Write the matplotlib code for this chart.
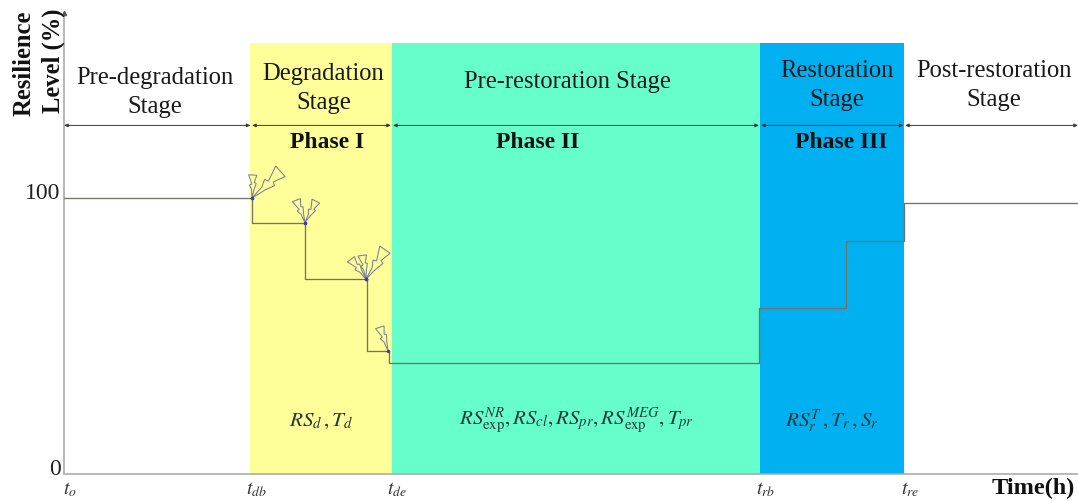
import matplotlib
matplotlib.use("Agg")
import matplotlib.pyplot as plt
from matplotlib.patches import Polygon
from matplotlib.transforms import Affine2D, ScaledTranslation
import numpy as np

plt.rcParams['font.family'] = ['Liberation Serif', 'DejaVu Serif']
plt.rcParams['mathtext.fontset'] = 'stix'

# Data
step_times = [0, 188, 240.5, 302.5, 324.5, 695, 782, 840, 1014]
step_levels = [100, 91.1, 70.6, 44.4, 40.2, 60, 84.4, 98.2, 98.2]
boundaries = [186, 328, 696, 840]
band_colors = ['#FFFF99', '#66FFCC', '#00B0F0']
stage_labels = ['Pre-degradation\nStage', 'Degradation\nStage', 'Pre-restoration Stage',
                'Restoration\nStage', 'Post-restoration\nStage']
stage_x = [91, 259.5, 503, 773, 930]
stage_y = [138.3, 139.7, 142, 140.7, 140.7]
phase_labels = ['Phase I', 'Phase II', 'Phase III']
phase_x = [263, 473.5, 777]
param_labels = [r'$RS_d\,,T_d$',
                r'$RS_{\mathrm{exp}}^{NR},RS_{cl},RS_{pr},RS_{\mathrm{exp}}^{MEG},T_{pr}$',
                r'$RS_r^{T}\,,T_r\,,S_r$']
param_x = [257.5, 513, 768]
time_ticks = [0, 186, 327, 696, 840]
time_labels = [r'$t_o$', r'$t_{db}$', r'$t_{de}$', r'$t_{rb}$', r'$t_{re}$']
span_edges = [(0, 186.5), (188, 327), (329, 695), (697, 839.5), (841, 1014)]
# bolt anchors: (time, level, angle from vertical deg, length px)
bolts = [(188, 100, -3, 23), (188, 100, -48, 39),
         (241, 91.1, 20, 24), (241, 91.1, -28, 24),
         (302, 70.6, 36, 25), (302, 70.6, 8, 24), (302, 70.6, -34, 35),
         (324, 44.6, 18, 25)]

W, H = 1078, 501
fig = plt.figure(figsize=(W/100, H/100), dpi=100)
ax = fig.add_axes([64/W, (H-474)/H, (W-64)/W, 474/H])
ax.set_xlim(0, 1014)
ax.set_ylim(0, 474/2.76)
ax.patch.set_alpha(0)
for s in ['top', 'right']:
    ax.spines[s].set_visible(False)
for s in ['left', 'bottom']:
    ax.spines[s].set_color('#ABABAB')
    ax.spines[s].set_linewidth(1.2)
ax.spines['left'].set_bounds(0, 167)
ax.plot([0], [167], marker='^', ms=3, color='#555555', clip_on=False, zorder=3)

top = (474-43)/2.76
for i, c in enumerate(band_colors):
    ax.fill_between([boundaries[i], boundaries[i+1]], 0, top, color=c, lw=0, zorder=0)

ax.step(step_times, step_levels, where='post', color='#73736A', lw=0.95, zorder=3)

ax.set_xticks(time_ticks)
ax.set_xticklabels(time_labels, fontsize=14, color='#333333')
ax.set_yticks([0, 100])
ax.set_yticklabels(['0', '100'], fontsize=17, color='#222222')
ax.tick_params(axis='both', length=0)
ax.tick_params(axis='y', pad=2.5)
ax.tick_params(axis='x', pad=4.5)
x_shift = ScaledTranslation(6/100, 0, fig.dpi_scale_trans)
for lab in ax.get_xticklabels():
    lab.set_transform(lab.get_transform() + x_shift)
y_shift = ScaledTranslation(0, 7/100, fig.dpi_scale_trans)
for lab in ax.get_yticklabels():
    lab.set_transform(lab.get_transform() + y_shift)

for x, y, t in zip(stage_x, stage_y, stage_labels):
    ax.text(x, y, t, ha='center', va='center', fontsize=17.7, color='#1a1a1a', linespacing=1.42)
for x, t in zip(phase_x, phase_labels):
    ax.text(x, 120.2, t, ha='center', va='center', fontsize=17, fontweight='bold', color='#111111')
for x, s, t in zip(param_x, [15.2, 15, 15.2], param_labels):
    ax.text(x, 19.2, t, ha='center', va='center', fontsize=s, color='#1f3a3a')

for a, b in span_edges:
    ax.annotate('', xy=(a, 126.3), xytext=(b, 126.3),
                arrowprops=dict(arrowstyle='<|-|>,head_width=0.1,head_length=0.22',
                                color='#3a3a3a', lw=0.7, shrinkA=0, shrinkB=0))

# lightning bolts, unit outline pointing up from the origin
bolt_shape = np.array([[0, 0], [-0.04, 0.38], [-0.14, 0.56], [-0.04, 0.60], [-0.20, 1.0],
                       [0.16, 1.0], [0.06, 0.68], [0.15, 0.64], [0.07, 0.38], [0, 0]])
for t, l, ang, ln in bolts:
    px, py = ax.transData.transform((t, l))
    tr = Affine2D().scale(ln).rotate_deg(ang).translate(px, py)
    ax.add_patch(Polygon(tr.transform(bolt_shape), closed=True, transform=None,
                         fill=False, ec='#7D7D9A', lw=0.75, zorder=4))
    ax.plot([t], [l], 'o', ms=1.5, color='#4040A0', zorder=5)

fig.text(24/W, 1-63.5/H, 'Resilience', rotation=90, ha='center', va='center',
         fontsize=17.7, fontweight='bold', color='#111111')
fig.text(53/W, 1-61/H, 'Level (%)', rotation=90, ha='center', va='center',
         fontsize=17.7, fontweight='bold', color='#111111')
fig.text(1033/W, 1-488/H, 'Time(h)', ha='center', va='center',
         fontsize=17.5, fontweight='bold', color='#111111')

fig.savefig('out.png', dpi=100)
